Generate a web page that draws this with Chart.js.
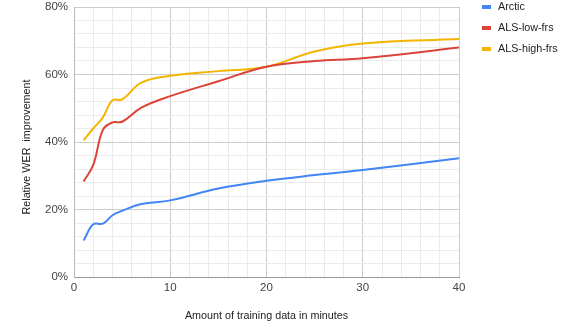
<!DOCTYPE html>
<html>
<head>
<meta charset="utf-8">
<script src="https://cdn.jsdelivr.net/npm/chart.js@4/dist/chart.umd.min.js"></script>
<style>
  html, body { margin: 0; padding: 0; background: #fff; }
  #wrap { width: 576px; height: 324px; }
</style>
</head>
<body>
<div id="wrap"><canvas id="c" width="576" height="324"></canvas></div>
<script>
// Minutes of training data
const minutes = [1, 2, 3, 4, 5, 7, 10, 15, 20, 25, 30, 40];
// Relative WER improvement (%)
const arctic     = [10.8, 15.6, 15.8, 18.3, 19.6, 21.6, 22.7, 26.2, 28.5, 30.2, 31.7, 35.2];
const alsLowFrs  = [28.3, 33.2, 43.6, 45.8, 46.0, 50.2, 53.6, 58.0, 62.3, 64.0, 64.8, 68.0];
const alsHighFrs = [40.5, 44.0, 47.3, 52.4, 52.6, 57.6, 59.6, 61.0, 62.3, 66.8, 69.2, 70.5];
const seriesNames = ['Arctic', 'ALS-low-frs', 'ALS-high-frs'];
const seriesColors = ['#4285F4', '#DB4437', '#F4B400'];
const yTickLabels = ['0%', '20%', '40%', '60%', '80%'];
const xTickLabels = ['0', '10', '20', '30', '40'];
const yAxisTitle = 'Relative WER  improvement';
const xAxisTitle = 'Amount of training data in minutes';

const FONT = "'Liberation Sans', Arial, sans-serif";

function pts(values) {
  return minutes.map((m, i) => ({ x: m, y: values[i] }));
}

// Vertical legend to the right of the plot, plus the rotated y-axis title
const sideLegend = {
  id: 'sideLegend',
  afterDraw(chart) {
    const ctx = chart.ctx;
    ctx.save();
    ctx.font = '10.75px ' + FONT;
    ctx.textBaseline = 'middle';
    chart.data.datasets.forEach((ds, i) => {
      const y = 7 + i * 21;
      ctx.fillStyle = ds.borderColor;
      ctx.fillRect(482, y - 2, 9, 4);
      ctx.fillStyle = '#222';
      ctx.textAlign = 'left';
      ctx.fillText(ds.label, 498, y);
    });
    // y-axis title
    ctx.translate(27, 147);
    ctx.rotate(-Math.PI / 2);
    ctx.textAlign = 'center';
    ctx.fillStyle = '#222';
    ctx.fillText(yAxisTitle, 0, 0);
    ctx.restore();
  }
};

new Chart(document.getElementById('c'), {
  type: 'line',
  data: {
    datasets: [arctic, alsLowFrs, alsHighFrs].map((vals, i) => ({
      label: seriesNames[i],
      data: pts(vals),
      borderColor: seriesColors[i],
      backgroundColor: seriesColors[i],
      borderWidth: 2,
      pointRadius: 0,
      tension: 0.4,
      fill: false
    }))
  },
  options: {
    responsive: false,
    animation: false,
    layout: { padding: { left: 0, top: 7, right: 117, bottom: 0 } },
    plugins: { legend: { display: false }, tooltip: { enabled: false } },
    scales: {
      x: {
        type: 'linear',
        min: 0, max: 40,
        afterFit(s) { s.height = 47; s.paddingLeft = 0; s.paddingRight = 0; },
        ticks: {
          stepSize: 2,
          padding: 4,
          color: '#444',
          font: { family: FONT, size: 11.5 },
          maxRotation: 0,
          autoSkip: false,
          callback: v => (v % 10 === 0 ? xTickLabels[v / 10] : '')
        },
        grid: {
          drawTicks: false,
          color: c => (c.tick && c.tick.value % 10 === 0 ? '#cccccc' : '#ebebeb'),
          lineWidth: 1
        },
        border: { color: '#999', width: 1 },
        title: {
          display: true,
          text: xAxisTitle,
          color: '#222',
          font: { family: FONT, size: 10.75 },
          padding: { top: 2, bottom: 2 }
        }
      },
      y: {
        min: 0, max: 80,
        afterFit(s) { s.width = 74; s.paddingTop = 0; s.paddingBottom = 0; },
        ticks: {
          stepSize: 4,
          padding: 6,
          color: '#444',
          font: { family: FONT, size: 11.5 },
          autoSkip: false,
          callback: v => (v % 20 === 0 ? yTickLabels[v / 20] : '')
        },
        grid: {
          drawTicks: false,
          color: c => (c.tick && c.tick.value % 20 === 0 ? '#cccccc' : '#ebebeb'),
          lineWidth: 1
        },
        border: { color: '#bbb', width: 1 },
        title: { display: false }
      }
    }
  },
  plugins: [sideLegend]
});
</script>
</body>
</html>
